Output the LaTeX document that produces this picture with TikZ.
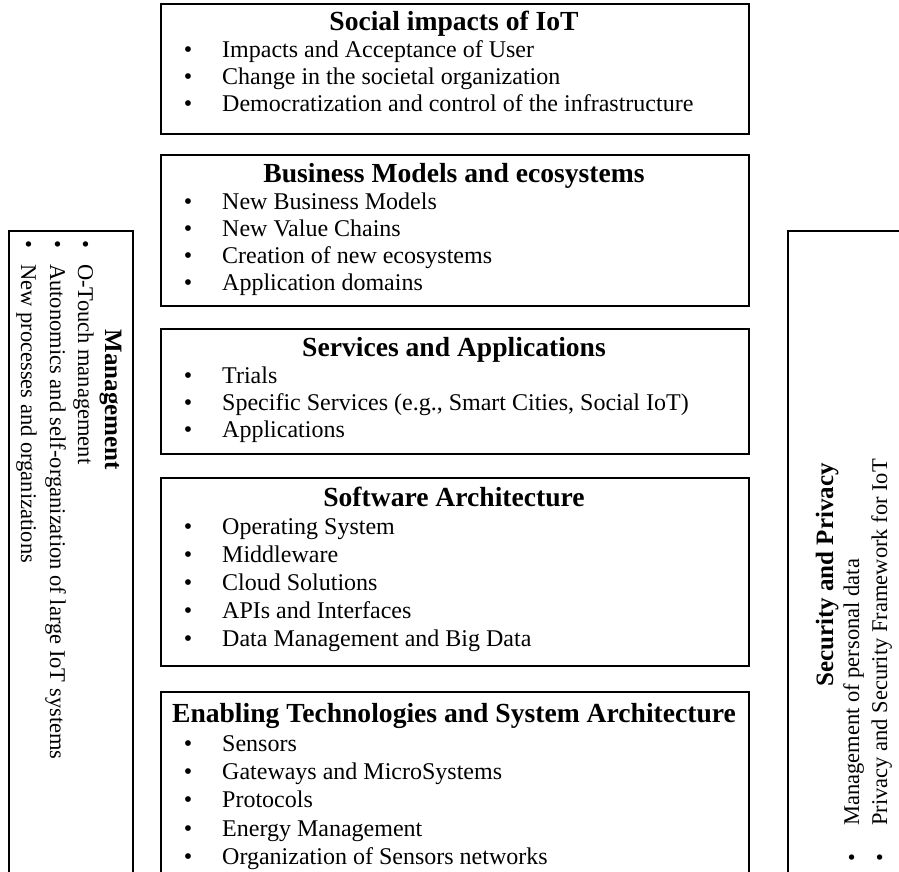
\documentclass[tikz,border=0pt]{standalone}
\usepackage{fontspec}
\setmainfont{Liberation Serif}
\begin{document}
\begin{tikzpicture}[x=1pt,y=-1pt]
\tikzset{
  panel/.style={draw=black, line width=1.8pt, anchor=north west, inner sep=0pt},
  ttl/.style={font=\fontsize{27.6}{32}\selectfont\bfseries, anchor=base, inner sep=0pt},
  itm/.style={font=\fontsize{24}{28}\selectfont, anchor=base west, inner sep=0pt},
  dot/.style={font=\fontsize{24}{28}\selectfont, anchor=base, inner sep=0pt},
  sidettl/.style={font=\fontsize{25}{30}\selectfont\bfseries, anchor=base, inner sep=0pt},
  sideitm/.style={font=\fontsize{22.5}{27}\selectfont, anchor=base west, inner sep=0pt},
  sidedot/.style={font=\fontsize{22.5}{27}\selectfont, anchor=base, inner sep=0pt},
}
\path[use as bounding box] (0,0) rectangle (899,872);
\clip (0,0) rectangle (899,872);

% stacked layers
\node[panel, minimum width=588pt, minimum height=130pt] (social) at (160,3) {};
\node[panel, minimum width=588pt, minimum height=151pt] (business) at (160,154) {};
\node[panel, minimum width=588pt, minimum height=125pt] (services) at (160,328) {};
\node[panel, minimum width=588pt, minimum height=188pt] (software) at (160,477) {};
\node[panel, minimum width=588pt, minimum height=200pt] (enabling) at (160,691) {};

% side columns
\node[panel, minimum width=124pt, minimum height=660pt] (mgmt) at (8,230) {};
\node[panel, minimum width=130pt, minimum height=660pt] (secu) at (787,230) {};

% Social impacts
\node[ttl] (socialT) at (454,31) {Social impacts of IoT};
\foreach \t [count=\i] in {Impacts and Acceptance of User, Change in the societal organization, Democratization and control of the infrastructure} {
  \node[dot] (socialB\i) at (188,31+27*\i) {•};
  \node[itm] (socialI\i) at (222,31+27*\i) {\t};
}

% Business models
\node[ttl] (businessT) at (454,182) {Business Models and ecosystems};
\foreach \t [count=\i] in {New Business Models, New Value Chains, Creation of new ecosystems, Application domains} {
  \node[dot] (businessB\i) at (188,182+27*\i) {•};
  \node[itm] (businessI\i) at (222,182+27*\i) {\t};
}

% Services
\node[ttl] (servicesT) at (454,356) {Services and Applications};
\foreach \t [count=\i] in {Trials, {Specific Services (e.g., Smart Cities, Social IoT)}, Applications} {
  \node[dot] (servicesB\i) at (188,356+27*\i) {•};
  \node[itm] (servicesI\i) at (222,356+27*\i) {\t};
}

% Software architecture
\node[ttl] (softwareT) at (454,506) {Software Architecture};
\foreach \t [count=\i] in {Operating System, Middleware, Cloud Solutions, APIs and Interfaces, Data Management and Big Data} {
  \node[dot] (softwareB\i) at (188,506+28*\i) {•};
  \node[itm] (softwareI\i) at (222,506+28*\i) {\t};
}

% Enabling technologies
\node[ttl] (enablingT) at (454,722) {Enabling Technologies and System Architecture};
\foreach \t [count=\i] in {Sensors, Gateways and MicroSystems, Protocols, Energy Management, Organization of Sensors networks} {
  \node[dot] (enablingB\i) at (188,723+28.3*\i) {•};
  \node[itm] (enablingI\i) at (222,723+28.3*\i) {\t};
}

% Management column, read top to bottom
\node[sidettl, rotate=-90] (mgmtT) at (105,400) {Management};
\foreach \t/\x [count=\i] in {O-Touch management/78, Autonomics and self-organization of large IoT systems/50, New processes and organizations/21} {
  \node[sidedot, rotate=-90] (mgmtB\i) at (\x,244) {•};
  \node[sideitm, rotate=-90] (mgmtI\i) at (\x,264) {\t};
}

% Security column, read bottom to top
\node[sidettl, rotate=90] (secuT) at (833,575) {Security and Privacy};
\foreach \t/\x [count=\i] in {Management of personal data/859, Privacy and Security Framework for IoT/887} {
  \node[sidedot, rotate=90] (secuB\i) at (\x,858) {•};
  \node[sideitm, rotate=90] (secuI\i) at (\x,826) {\t};
}
\end{tikzpicture}
\end{document}
